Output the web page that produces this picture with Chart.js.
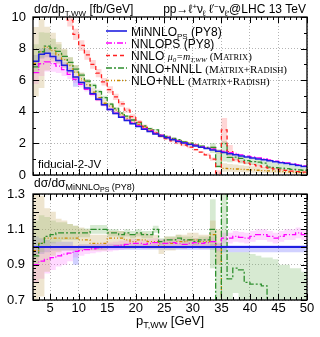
<!DOCTYPE html>
<html>
<head>
<meta charset="utf-8">
<script src="https://cdn.jsdelivr.net/npm/chart.js@4"></script>
<style>
  body { margin: 0; background: #fff; }
  #wrap { position: relative; width: 320px; height: 337px; }
  canvas { position: absolute; left: 0; top: 0; }
</style>
</head>
<body>
<div id="wrap">
  <canvas id="main" width="320" height="337"></canvas>
  <canvas id="ratio" width="320" height="337"></canvas>
</div>
<script>
// bin edges in pT,WW [GeV], one value per 1 GeV bin
var binEdges = [2,3,4,5,6,7,8,9,10,11,12,13,14,15,16,17,18,19,20,21,22,23,24,25,26,27,28,29,30,31,32,33,34,35,36,37,38,39,40,41,42,43,44,45,46,47,48,49,50];
var xTicks = [5,10,15,20,25,30,35,40,45,50];
var yMainTicks = [0,2,4,6,8,10];
var yMainLabels = ['0','2','4','6','8','10'];
var yRatioTicks = [0.7,0.8,0.9,1,1.1,1.2,1.3];
var yRatioLabels = ['0.7','0.8','0.9','1','1.1','1.2','1.3'];

// dsigma/dpT [fb/GeV]
var minnlo   = [7.2,7.65,7.7,7.5,7.25,6.95,6.6,6.2, 5.85,5.5,5.15,4.8,4.45,4.15,3.9,3.65, 3.45,3.25,3.07,2.9,2.75,2.6,2.47,2.35, 2.23,2.12,2.02,1.93,1.84,1.75,1.67,1.59, 1.5,1.42,1.35,1.28,1.21,1.14,1.08,1.02, 0.96,0.9,0.84,0.78,0.72,0.66,0.6,0.54];
var minnloLo = [6.9,7.35,7.45,7.35,7.1,6.81,6.47,5.58, 5.76,5.42,5.07,4.73,4.38,4.09,3.84,3.6, 3.4,3.2,3.02,2.86,2.71,2.56,2.43,2.31, 2.2,2.09,1.99,1.9,1.81,1.72,1.64,1.56, 1.47,1.38,1.31,1.24,1.17,1.1,1.04,0.98, 0.92,0.87,0.81,0.75,0.69,0.64,0.58,0.52];
var minnloHi = [7.6,8.0,8.0,7.73,7.47,7.16,6.8,6.2, 5.94,5.58,5.23,4.87,4.52,4.21,3.96,3.7, 3.5,3.3,3.12,2.94,2.79,2.64,2.51,2.39, 2.26,2.15,2.05,1.96,1.87,1.78,1.7,1.62, 1.53,1.44,1.37,1.3,1.23,1.16,1.1,1.04, 0.98,0.92,0.86,0.8,0.74,0.68,0.62,0.56];

var nnlops   = [6.48,7.04,7.16,7.05,6.89,6.67,6.37,6.05, 5.73,5.42,5.1,4.78,4.45,4.15,3.92,3.69, 3.5,3.32,3.13,2.94,2.81,2.67,2.52,2.4, 2.29,2.16,2.05,1.97,1.89,1.79,1.71,1.64, 1.5,1.49,1.42,1.36,1.28,1.2,1.14,1.09, 1.03,0.95,0.88,0.83,0.77,0.71,0.65,0.58];
var nnlopsLo = [5.76,6.27,6.55,6.53,6.45,6.26,6.07,5.83, 5.56,5.28,4.97,4.66,4.34,4.05,3.82,3.6, 3.41,3.24,3.05,2.87,2.74,2.6,2.46,2.34, 2.23,2.11,2.0,1.92,1.84,1.75,1.67,1.6, 1.46,1.45,1.38,1.32,1.25,1.17,1.11,1.06, 1.0,0.92,0.86,0.81,0.75,0.69,0.63,0.56];
var nnlopsHi = [7.2,7.65,7.7,7.5,7.25,7.02,6.67,6.26, 5.91,5.56,5.23,4.9,4.56,4.25,4.02,3.78, 3.59,3.4,3.21,3.01,2.88,2.74,2.58,2.46, 2.35,2.21,2.1,2.02,1.94,1.83,1.75,1.68, 1.54,1.53,1.46,1.4,1.31,1.23,1.17,1.12, 1.06,0.98,0.9,0.85,0.79,0.73,0.67,0.6];

var nnlo   = [14,13.5,13,12.5,11.8,10.8,9.8,8.9, 8.2,7.6,7.0,6.45,5.9,5.4,4.95,4.5, 4.1,3.7,3.35,3.07,2.83,2.63,2.45,2.3, 2.16,2.03,1.9,1.76,1.6,1.45,1.28,1.0, 0.12,2.85,1.48,0.95,0.85,0.75,0.66,0.58, 0.5,0.44,0.38,0.33,0.29,0.25,0.21,0.18];
var nnloLo = [13.4,13,12.5,12,11.3,10.3,9.4,8.55, 7.87,7.3,6.72,6.19,5.66,5.18,4.75,4.32, 3.94,3.55,3.22,2.95,2.72,2.53,2.35,2.21, 2.07,1.95,1.82,1.69,1.54,1.39,1.2,0.9, 0,2.0,1.2,0.85,0.78,0.69,0.61,0.53, 0.46,0.4,0.35,0.3,0.26,0.22,0.19,0.16];
var nnloHi = [14.6,14,13.5,13,12.3,11.3,10.2,9.25, 8.53,7.9,7.28,6.71,6.14,5.62,5.15,4.68, 4.26,3.85,3.48,3.19,2.94,2.73,2.55,2.39, 2.25,2.11,1.98,1.83,1.66,1.51,1.36,1.1, 0.3,3.6,1.9,1.05,0.92,0.81,0.71,0.63, 0.54,0.48,0.41,0.36,0.32,0.28,0.23,0.2];

var nnll   = [6.84,7.8,8.16,8.03,7.83,7.51,7.13,6.7, 6.32,5.94,5.67,5.28,4.9,4.48,4.21,3.91, 3.73,3.48,3.32,3.1,2.94,2.86,2.54,2.44, 2.32,2.23,2.1,2.01,1.9,1.82,1.74,1.75, 0.55,1.99,1.11,1.13,1.05,0.91,0.85,0.81, 0.75,0.5,0.46,0.43,0.4,0.36,0.33,0.3];
var nnllLo = [6.48,7.42,7.7,7.65,7.47,7.23,6.86,6.45, 6.17,5.8,5.54,5.16,4.78,4.4,4.13,3.83, 3.66,3.41,3.25,3.05,2.89,2.81,2.49,2.4, 2.27,2.18,2.06,1.97,1.86,1.79,1.7,1.4, 0.45,0.85,0.81,0.95,0.73,0.68,0.65,0.61, 0.58,0.41,0.38,0.35,0.32,0.3,0.27,0.24];
var nnllHi = [8.28,9.03,9.0,8.63,8.27,7.92,7.46,6.94, 6.46,6.08,5.79,5.4,5.01,4.57,4.29,3.98, 3.8,3.54,3.38,3.16,3.0,2.91,2.59,2.49, 2.36,2.27,2.14,2.05,1.93,1.86,1.77,2.02, 1.47,2.13,1.31,1.24,1.17,1.11,1.04,0.97, 0.9,0.85,0.78,0.7,0.65,0.58,0.53,0.46];

var nll   = [7.06,7.8,8.09,7.88,7.61,7.3,6.93,6.51, 6.08,5.72,5.25,4.9,4.54,4.36,4.1,3.83, 3.59,3.35,3.19,3.02,2.83,2.68,2.47,2.4, 2.27,2.18,2.08,2.01,1.91,1.8,1.72,1.7, 1.5,0.42,0.4,0.38,0.36,0.34,0.32,0.3, 0.28,0.26,0.24,0.22,0.2,0.18,0.16,0.14];
var nllLo = [4.97,5.51,6.62,7.13,7.03,6.81,6.47,6.08, 5.73,5.45,5.05,4.7,4.36,4.15,3.9,3.65, 3.42,3.22,3.07,2.9,2.72,2.57,2.37,2.3, 2.19,2.1,2.0,1.93,1.84,1.73,1.65,1.59, 1.35,0.2,0.2,0.18,0.17,0.16,0.15,0.14, 0.13,0.12,0.11,0.1,0.09,0.08,0.07,0.06];
var nllHi = [9.36,9.87,9.39,9.0,8.41,7.99,7.46,6.94, 6.49,6.05,5.51,5.14,4.76,4.52,4.25,3.98, 3.73,3.48,3.32,3.13,2.94,2.78,2.57,2.49, 2.36,2.27,2.16,2.08,1.99,1.87,1.79,1.83, 1.65,0.75,0.7,0.66,0.62,0.58,0.55,0.52, 0.49,0.46,0.43,0.4,0.37,0.34,0.31,0.28];

// ratio to MiNNLO_PS
var rMinnlo   = [1,1,1,1,1,1,1,1, 1,1,1,1,1,1,1,1, 1,1,1,1,1,1,1,1, 1,1,1,1,1,1,1,1, 1,1,1,1,1,1,1,1, 1,1,1,1,1,1,1,1];
var rMinnloLo = [0.96,0.96,0.97,0.98,0.98,0.98,0.98,0.9, 0.985,0.985,0.985,0.985,0.985,0.985,0.985,0.985, 0.985,0.985,0.985,0.985,0.985,0.985,0.985,0.985, 0.985,0.985,0.985,0.985,0.985,0.985,0.985,0.985, 0.98,0.97,0.97,0.97,0.97,0.97,0.97,0.97, 0.97,0.97,0.97,0.97,0.97,0.97,0.97,0.97];
var rMinnloHi = [1.06,1.05,1.04,1.03,1.03,1.03,1.03,1.0, 1.015,1.015,1.015,1.015,1.015,1.015,1.015,1.015, 1.015,1.015,1.015,1.015,1.015,1.015,1.015,1.015, 1.015,1.015,1.015,1.015,1.015,1.015,1.015,1.015, 1.02,1.01,1.01,1.01,1.01,1.01,1.01,1.01, 1.01,1.01,1.01,1.01,1.01,1.01,1.01,1.01];

var rNnlops   = [0.9,0.92,0.93,0.94,0.95,0.96,0.965,0.975, 0.98,0.985,0.99,0.995,1.0,1.0,1.005,1.01, 1.015,1.02,1.02,1.015,1.02,1.025,1.02,1.02, 1.025,1.02,1.015,1.02,1.025,1.02,1.025,1.03, 1.0,1.05,1.05,1.06,1.055,1.05,1.06,1.07, 1.07,1.06,1.05,1.06,1.07,1.07,1.08,1.07];
var rNnlopsLo = [0.8,0.82,0.85,0.87,0.89,0.9,0.92,0.94, 0.95,0.96,0.965,0.97,0.975,0.975,0.98,0.985, 0.99,0.995,0.995,0.99,0.995,1.0,0.995,0.995, 1.0,0.995,0.99,0.995,1.0,0.995,1.0,1.005, 0.975,1.02,1.02,1.03,1.025,1.02,1.03,1.04, 1.04,1.03,1.02,1.03,1.04,1.04,1.05,1.04];
var rNnlopsHi = [1.0,1.0,1.0,1.0,1.0,1.01,1.01,1.01, 1.01,1.01,1.015,1.02,1.025,1.025,1.03,1.035, 1.04,1.045,1.045,1.04,1.045,1.05,1.045,1.045, 1.05,1.045,1.04,1.045,1.05,1.045,1.05,1.055, 1.025,1.08,1.08,1.09,1.085,1.08,1.09,1.1, 1.1,1.09,1.08,1.09,1.1,1.1,1.11,1.1];

var rNnll   = [0.95,1.02,1.06,1.07,1.08,1.08,1.08,1.08, 1.08,1.08,1.1,1.1,1.1,1.08,1.08,1.07, 1.08,1.07,1.08,1.07,1.07,1.1,1.03,1.04, 1.04,1.05,1.04,1.04,1.03,1.04,1.04,1.1, 0.4,1.4,0.82,0.88,0.87,0.8,0.79,0.79, 0.78,0.55,0.55,0.55,0.55,0.55,0.55,0.55];
var rNnllLo = [0.9,0.97,1.0,1.02,1.03,1.04,1.04,1.04, 1.055,1.055,1.075,1.075,1.075,1.06,1.06,1.05, 1.06,1.05,1.06,1.05,1.05,1.08,1.01,1.02, 1.02,1.03,1.02,1.02,1.01,1.02,1.02,0.88, 0.3,0.6,0.6,0.74,0.6,0.6,0.6,0.6, 0.6,0.45,0.45,0.45,0.45,0.45,0.45,0.45];
var rNnllHi = [1.15,1.18,1.17,1.15,1.14,1.14,1.13,1.12, 1.105,1.105,1.125,1.125,1.125,1.1,1.1,1.09, 1.1,1.09,1.1,1.09,1.09,1.12,1.05,1.06, 1.06,1.07,1.06,1.06,1.05,1.06,1.06,1.27, 0.98,1.5,0.97,0.97,0.97,0.97,0.96,0.95, 0.94,0.94,0.93,0.9,0.9,0.88,0.88,0.86];

var rNll   = [0.98,1.02,1.05,1.05,1.05,1.05,1.05,1.05, 1.04,1.04,1.02,1.02,1.02,1.05,1.05,1.05, 1.04,1.03,1.04,1.04,1.03,1.03,1.0,1.02, 1.02,1.03,1.03,1.04,1.04,1.03,1.03,1.07, 1.0,0.3,0.3,0.3,0.3,0.3,0.3,0.3, 0.3,0.3,0.3,0.3,0.3,0.3,0.3,0.3];
var rNllLo = [0.69,0.72,0.86,0.95,0.97,0.98,0.98,0.98, 0.98,0.99,0.98,0.98,0.98,1.0,1.0,1.0, 0.99,0.99,1.0,1.0,0.99,0.99,0.96,0.98, 0.98,0.99,0.99,1.0,1.0,0.99,0.99,1.0, 0.9,0.15,0.15,0.15,0.15,0.15,0.15,0.15, 0.15,0.15,0.15,0.15,0.15,0.15,0.15,0.15];
var rNllHi = [1.3,1.29,1.22,1.2,1.16,1.15,1.13,1.12, 1.11,1.1,1.07,1.07,1.07,1.09,1.09,1.09, 1.08,1.07,1.08,1.08,1.07,1.07,1.04,1.06, 1.06,1.07,1.07,1.08,1.08,1.07,1.07,1.15, 1.1,0.5,0.5,0.5,0.5,0.5,0.5,0.5, 0.5,0.5,0.5,0.5,0.5,0.5,0.5,0.5];

var SANS = "'Liberation Sans', 'DejaVu Sans', Arial, sans-serif";
var SERIF = "'Liberation Serif', 'DejaVu Serif', serif";
var gridColor = '#b4b4b4';

var cBlue = '#1f1fe0', cMag = '#ff00ff', cRed = '#ff2020', cGreen = '#2e8f2e', cOrange = '#cc8a00';
var fBlue = 'rgba(90,90,255,0.28)', fMag = 'rgba(255,80,255,0.22)', fRed = 'rgba(255,90,90,0.25)',
    fGreen = 'rgba(110,180,95,0.28)', fOrange = 'rgba(205,180,120,0.35)';
var dMag = [6, 2, 1, 2], dRed = [4, 3], dGreen = [6, 2, 2, 2], dOrange = [3, 2, 1, 2, 1, 2];

// histogram: point on every left edge, last value repeated at the right edge
function stepData(vals) {
  return binEdges.map(function (e, k) {
    return { x: e, y: vals[Math.min(k, vals.length - 1)] };
  });
}
function line(vals, color, dash, order, width) {
  return {
    data: stepData(vals), borderColor: color, borderDash: dash, borderWidth: width || 1.3,
    stepped: true, pointRadius: 0, fill: false, order: order
  };
}
function band(hi, lo, color) {
  return [
    { data: stepData(hi), stepped: true, pointRadius: 0, borderWidth: 0,
      borderColor: 'rgba(0,0,0,0)', backgroundColor: color, fill: '+1', order: 10 },
    { data: stepData(lo), stepped: true, pointRadius: 0, borderWidth: 0,
      borderColor: 'rgba(0,0,0,0)', fill: false, order: 10 }
  ];
}

function xScale(labels) {
  return {
    type: 'linear', min: 2, max: 50,
    afterBuildTicks: function (s) { s.ticks = xTicks.map(function (v) { return { value: v }; }); },
    afterFit: function (s) { s.height = labels ? 37 : 0; },
    grid: { color: gridColor, drawTicks: false },
    border: { display: false, dash: [1, 2] },
    ticks: { display: labels, padding: 1, color: '#000', maxRotation: 0, autoSkip: false,
             font: { family: SANS, size: 13 } }
  };
}
function yScale(min, max, ticks, labels, pad) {
  return {
    min: min, max: max,
    afterBuildTicks: function (s) { s.ticks = ticks.map(function (v) { return { value: v }; }); },
    afterFit: function (s) { s.width = 33; },
    grid: { color: gridColor, drawTicks: false },
    border: { display: false, dash: [1, 2] },
    ticks: { padding: pad, color: '#000', font: { family: SANS, size: 13 },
             callback: function (v, i) { return labels[i]; } }
  };
}

// text made of pieces: [text, size, dy, family, style]
function rich(ctx, x, y, parts, align) {
  var w = 0;
  parts.forEach(function (p) {
    ctx.font = (p[4] || '') + ' ' + p[1] + 'px ' + (p[3] || SANS);
    w += ctx.measureText(p[0]).width;
  });
  if (align === 'right') x -= w;
  if (align === 'center') x -= w / 2;
  ctx.textAlign = 'left';
  ctx.textBaseline = 'alphabetic';
  parts.forEach(function (p) {
    ctx.font = (p[4] || '') + ' ' + p[1] + 'px ' + (p[3] || SANS);
    ctx.fillText(p[0], x, y + (p[2] || 0));
    x += ctx.measureText(p[0]).width;
  });
}

function drawFrame(chart, yStep, yMajorEvery, yCount) {
  var a = chart.chartArea, ctx = chart.ctx, xs = chart.scales.x, ys = chart.scales.y;
  ctx.save();
  ctx.strokeStyle = '#000';
  ctx.lineWidth = 1;
  ctx.setLineDash([]);
  ctx.beginPath();
  for (var v = 2; v <= 50; v++) {
    var px = Math.round(xs.getPixelForValue(v)) + 0.5;
    var L = v % 5 === 0 ? 6 : 3;
    ctx.moveTo(px, a.bottom); ctx.lineTo(px, a.bottom - L);
    ctx.moveTo(px, a.top); ctx.lineTo(px, a.top + L);
  }
  for (var k = 0; k <= yCount; k++) {
    var py = Math.round(ys.getPixelForValue(ys.min + k * yStep)) + 0.5;
    var M = k % yMajorEvery === 0 ? 6 : 3;
    ctx.moveTo(a.left, py); ctx.lineTo(a.left + M, py);
    ctx.moveTo(a.right, py); ctx.lineTo(a.right - M, py);
  }
  ctx.stroke();
  ctx.lineWidth = 1.3;
  ctx.strokeRect(a.left, a.top, a.right - a.left, a.bottom - a.top);
  ctx.restore();
}

var mainDeco = {
  id: 'mainDeco',
  afterDraw: function (chart) {
    var ctx = chart.ctx;
    drawFrame(chart, 1, 2, 10);
    ctx.save();
    ctx.fillStyle = '#000';
    rich(ctx, 34, 13, [['dσ/dp', 12], ['T,WW', 8, 3], [' [fb/GeV]', 12]]);
    rich(ctx, 306, 13, [['pp→ℓ', 12], ['+', 8, -4], ['ν', 12], ['ℓ', 8, 3], [' ℓ', 12], ['′−', 8, -4],
                        ['ν', 12], ['ℓ′', 8, 3], ['@LHC 13 TeV', 12]], 'right');
    rich(ctx, 38, 168, [['fiducial-2-JV', 11.5]]);

    var rows = [
      { y: 31.5, c: cBlue, d: [], w: 1.6, t: [['MiNNLO', 12], ['PS', 8, 3], [' (PY8)', 12]] },
      { y: 43.5, c: cMag, d: dMag, w: 1.3, t: [['NNLOPS (PY8)', 12]] },
      { y: 56, c: cRed, d: dRed, w: 1.3, t: [['NNLO ', 12], ['μ', 10, 0, SERIF, 'italic'], ['0', 7, 2, SERIF, 'italic'],
                                           ['=m', 10, 0, SERIF, 'italic'], ['T,WW', 7, 2, SERIF, 'italic'],
                                           [' (M', 11, 0, SERIF], ['ATRIX', 8.5, 0, SERIF], [')', 11, 0, SERIF]] },
      { y: 68.5, c: cGreen, d: dGreen, w: 1.3, t: [['NNLO+NNLL ', 12], ['(M', 11, 0, SERIF], ['ATRIX', 8.5, 0, SERIF],
                                                 ['+R', 11, 0, SERIF], ['ADISH', 8.5, 0, SERIF], [')', 11, 0, SERIF]] },
      { y: 81, c: cOrange, d: dOrange, w: 1.3, t: [['NLO+NLL ', 12], ['(M', 11, 0, SERIF], ['ATRIX', 8.5, 0, SERIF],
                                                 ['+R', 11, 0, SERIF], ['ADISH', 8.5, 0, SERIF], [')', 11, 0, SERIF]] }
    ];
    rows.forEach(function (r) {
      ctx.strokeStyle = r.c;
      ctx.lineWidth = r.w;
      ctx.setLineDash(r.d);
      ctx.beginPath();
      ctx.moveTo(106, r.y - 0.5);
      ctx.lineTo(127, r.y - 0.5);
      ctx.stroke();
      ctx.fillStyle = '#000';
      rich(ctx, 131, r.y + 4, r.t);
    });
    ctx.restore();
  }
};

var ratioDeco = {
  id: 'ratioDeco',
  afterDraw: function (chart) {
    var ctx = chart.ctx;
    drawFrame(chart, 0.02, 5, 30);
    ctx.save();
    ctx.fillStyle = '#000';
    rich(ctx, 34, 187, [['dσ/dσ', 12], ['MiNNLO', 9, 3], ['PS', 7, 5], [' (PY8)', 9, 3]]);
    rich(ctx, 170, 325, [['p', 13], ['T,WW', 9, 3], [' [GeV]', 13]], 'center');
    ctx.restore();
  }
};

var baseOpts = function (padTop, padBottom) {
  return {
    responsive: false, animation: false, devicePixelRatio: 1,
    layout: { padding: { left: 0, right: 13, top: padTop, bottom: padBottom } },
    plugins: { legend: { display: false }, tooltip: { enabled: false } },
    elements: { line: { tension: 0 } }
  };
};

var mainOpts = baseOpts(17, 162);
mainOpts.scales = { x: xScale(false), y: yScale(0, 10, yMainTicks, yMainLabels, 7) };
new Chart(document.getElementById('main').getContext('2d'), {
  type: 'line',
  data: {
    datasets: [
      line(minnlo, cBlue, [], 0, 1.5),
      line(nnlops, cMag, dMag, 1),
      line(nnlo, cRed, dRed, 2),
      line(nnll, cGreen, dGreen, 3),
      line(nll, cOrange, dOrange, 4)
    ].concat(band(nllHi, nllLo, fOrange), band(nnllHi, nnllLo, fGreen), band(nnloHi, nnloLo, fRed),
              band(nnlopsHi, nnlopsLo, fMag), band(minnloHi, minnloLo, fBlue))
  },
  options: mainOpts,
  plugins: [mainDeco]
});

var ratioOpts = baseOpts(194, 0);
ratioOpts.scales = { x: xScale(true), y: yScale(0.7, 1.3, yRatioTicks, yRatioLabels, 8) };
new Chart(document.getElementById('ratio').getContext('2d'), {
  type: 'line',
  data: {
    datasets: [
      line(rMinnlo, cBlue, [], 0, 2),
      line(rNnlops, cMag, dMag, 1),
      line(rNnll, cGreen, dGreen, 3),
      line(rNll, cOrange, dOrange, 4)
    ].concat(band(rNllHi, rNllLo, fOrange), band(rNnllHi, rNnllLo, fGreen),
              band(rNnlopsHi, rNnlopsLo, fMag), band(rMinnloHi, rMinnloLo, fBlue))
  },
  options: ratioOpts,
  plugins: [ratioDeco]
});
</script>
</body>
</html>
